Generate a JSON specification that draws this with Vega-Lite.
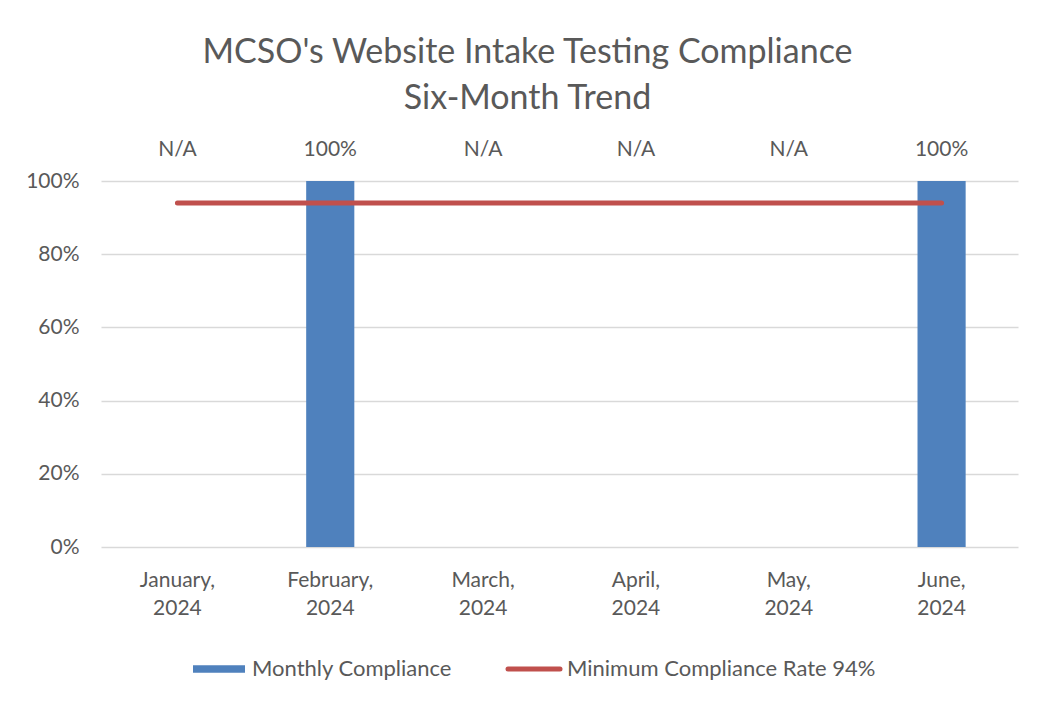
{
  "$schema": "https://vega.github.io/schema/vega-lite/v6.json",
  "width": 917,
  "height": 366,
  "autosize": {"type": "none"},
  "padding": {"left": 101, "top": 181, "right": 19, "bottom": 160},
  "background": "white",
  "title": {
    "text": ["MCSO's Website Intake Testing Compliance", "Six-Month Trend"],
    "font": "Lato",
    "fontSize": 34,
    "fontWeight": "normal",
    "color": "#595959",
    "lineHeight": 46,
    "anchor": "middle",
    "dx": -32,
    "offset": 23
  },
  "config": {
    "view": {"stroke": null},
    "font": "Lato",
    "axis": {"labelFont": "Lato", "labelColor": "#595959", "labelFontSize": 21, "domain": false, "ticks": false, "title": null},
    "legend": {"labelFont": "Lato", "labelColor": "#595959", "labelFontSize": 22, "labelLimit": 500}
  },
  "data": {
    "values": [
      {"month": "January, 2024", "value": null, "label": "N/A", "min": 0.94, "s1": "Monthly Compliance", "s2": "Minimum Compliance Rate 94%"},
      {"month": "February, 2024", "value": 1.0, "label": "100%", "min": 0.94, "s1": "Monthly Compliance", "s2": "Minimum Compliance Rate 94%"},
      {"month": "March, 2024", "value": null, "label": "N/A", "min": 0.94, "s1": "Monthly Compliance", "s2": "Minimum Compliance Rate 94%"},
      {"month": "April, 2024", "value": null, "label": "N/A", "min": 0.94, "s1": "Monthly Compliance", "s2": "Minimum Compliance Rate 94%"},
      {"month": "May, 2024", "value": null, "label": "N/A", "min": 0.94, "s1": "Monthly Compliance", "s2": "Minimum Compliance Rate 94%"},
      {"month": "June, 2024", "value": 1.0, "label": "100%", "min": 0.94, "s1": "Monthly Compliance", "s2": "Minimum Compliance Rate 94%"}
    ]
  },
  "encoding": {
    "x": {
      "field": "month", "type": "nominal",
      "sort": ["January, 2024", "February, 2024", "March, 2024", "April, 2024", "May, 2024", "June, 2024"],
      "scale": {"domain": ["January, 2024", "February, 2024", "March, 2024", "April, 2024", "May, 2024", "June, 2024"], "paddingInner": 0.685, "paddingOuter": 0.3425},
      "axis": {"labelAngle": 0, "labelExpr": "split(datum.value, ' ')", "labelPadding": 22, "labelLineHeight": 28, "grid": false, "labelFontSize": 21}
    }
  },
  "layer": [
    {
      "mark": {"type": "bar", "color": "#4F81BD"},
      "encoding": {
        "y": {
          "field": "value", "type": "quantitative",
          "scale": {"domain": [0, 1], "nice": false},
          "axis": {"format": ".0%", "values": [0, 0.2, 0.4, 0.6, 0.8, 1.0], "gridColor": "#d9d9d9", "gridWidth": 1.5, "labelPadding": 22}
        },
        "color": {
          "field": "s1", "type": "nominal",
          "scale": {"domain": ["Monthly Compliance", "Minimum Compliance Rate 94%"], "range": ["#4F81BD", "#C0504D"]},
          "legend": {
            "title": null,
            "orient": "none",
            "legendX": 107,
            "legendY": 477,
            "direction": "horizontal",
            "columnPadding": 46,
            "labelOffset": 22,
            "symbolSize": 2704,
            "symbolType": "M-1,-0.14H1V0.14H-1Z",
            "encode": {
              "symbols": {
                "update": {
                  "shape": {"signal": "datum.value === 'Monthly Compliance' ? 'M-1,-0.14H1V0.14H-1Z' : 'M-1,0H1'"},
                  "fill": {"signal": "datum.value === 'Monthly Compliance' ? '#4F81BD' : 'transparent'"},
                  "stroke": {"signal": "datum.value === 'Monthly Compliance' ? 'transparent' : '#C0504D'"},
                  "strokeWidth": {"signal": "datum.value === 'Monthly Compliance' ? 0 : 5"},
                  "strokeCap": {"value": "round"},
                  "opacity": {"value": 1}
                }
              }
            }
          }
        }
      }
    },
    {
      "mark": {"type": "line", "color": "#C0504D", "strokeWidth": 5, "strokeCap": "round"},
      "encoding": {
        "y": {"field": "min", "type": "quantitative"},
        "color": {"field": "s2", "type": "nominal"}
      }
    },
    {
      "mark": {"type": "text", "font": "Lato", "fontSize": 21, "color": "#595959", "dy": -31},
      "encoding": {
        "y": {"datum": 1},
        "text": {"field": "label"}
      }
    }
  ]
}
